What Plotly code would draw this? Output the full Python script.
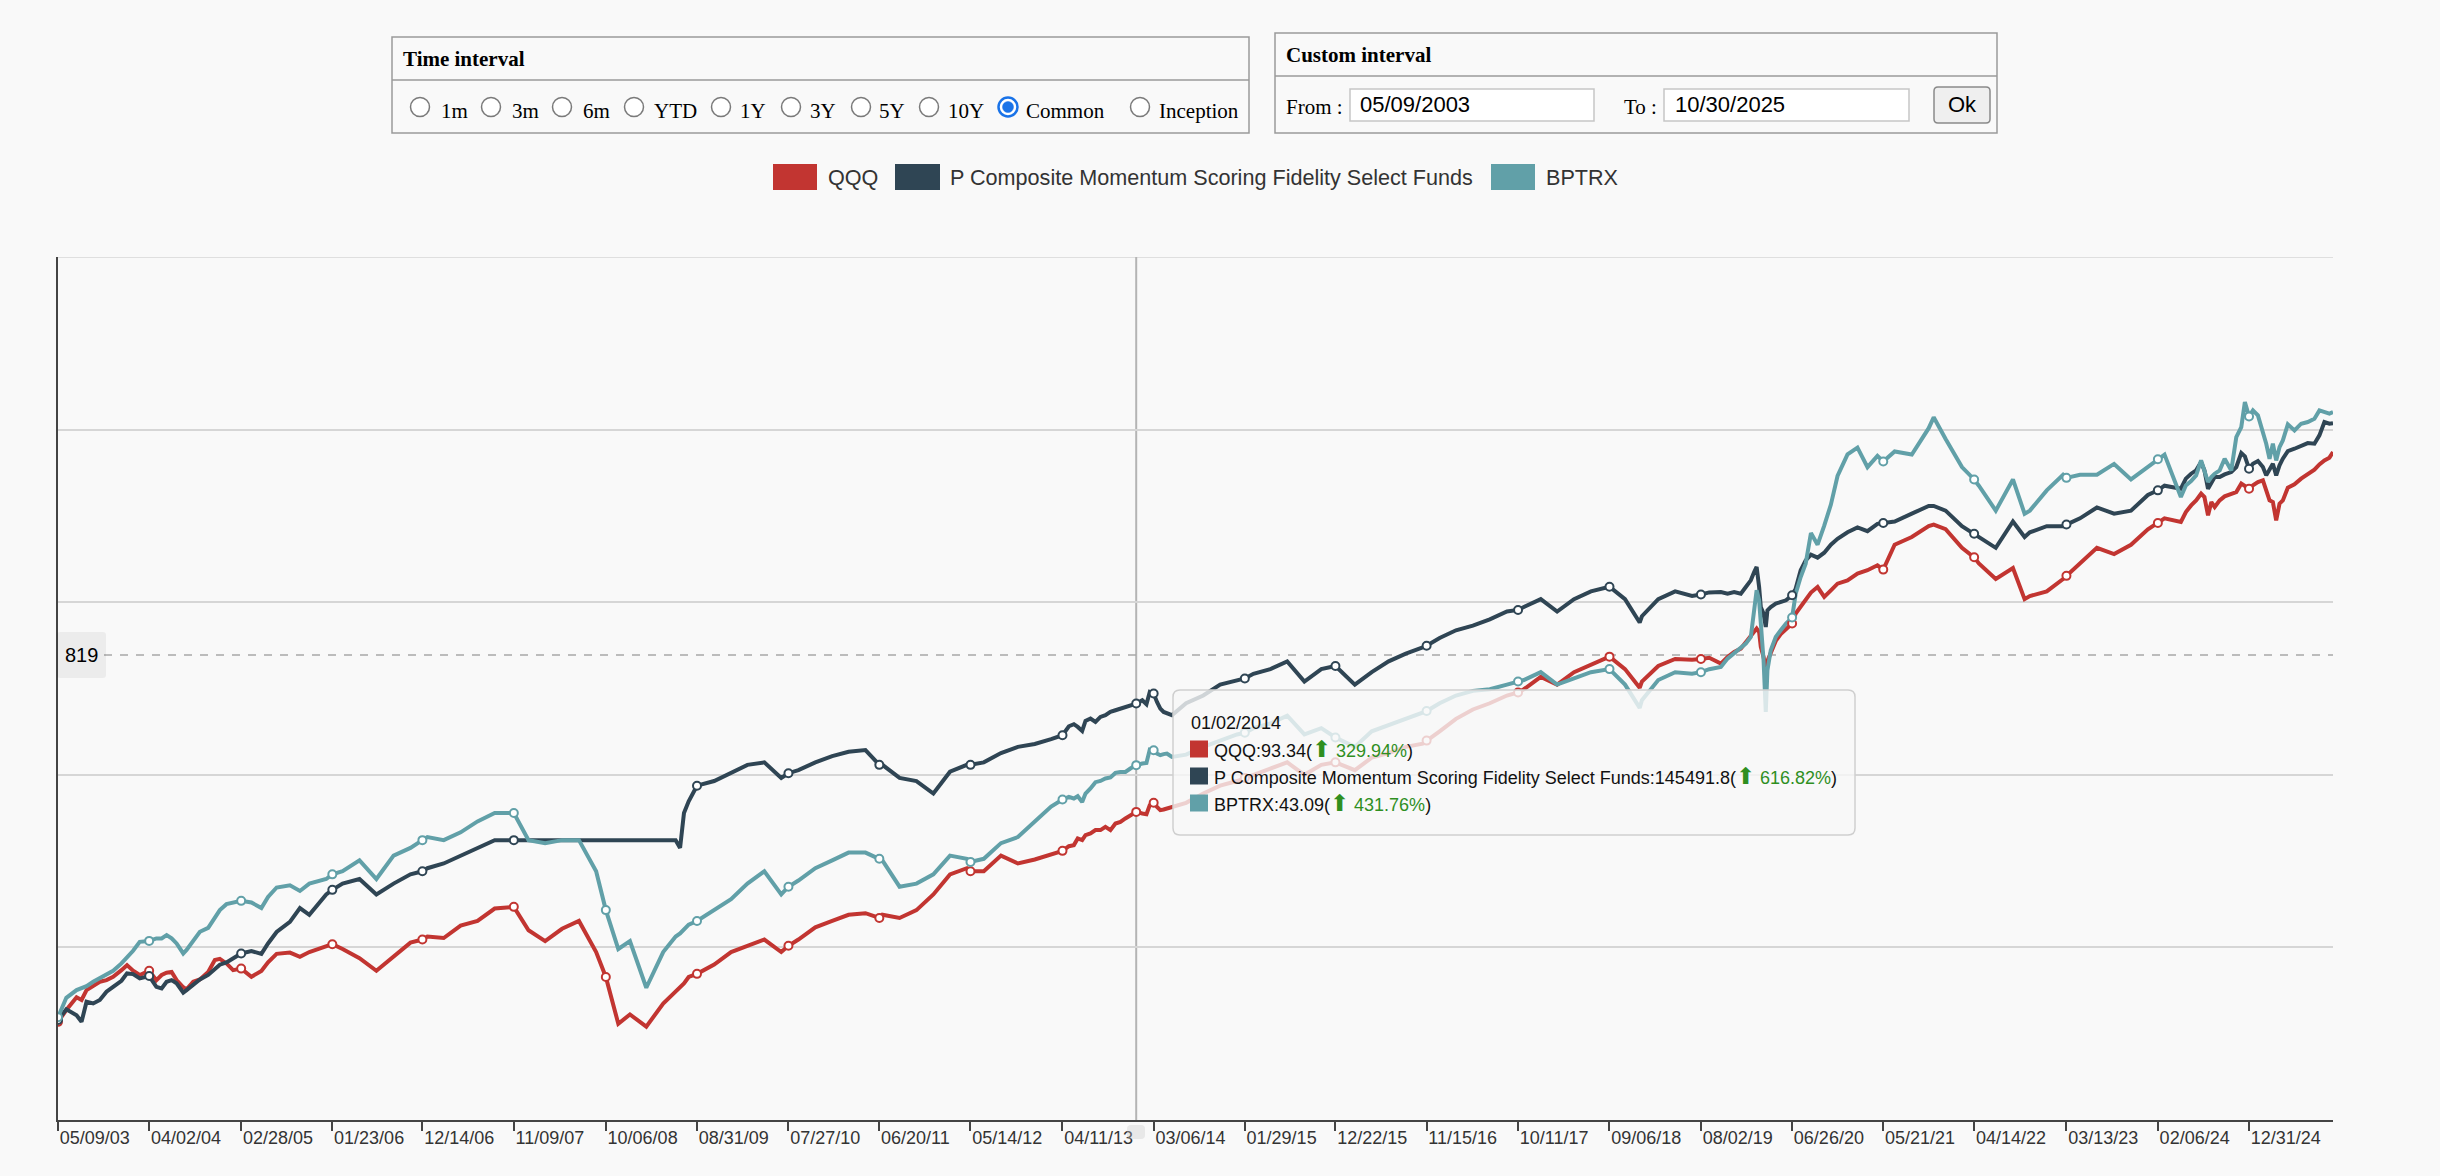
import math
import plotly.graph_objects as go

# ---------------- data (growth index) ----------------
dates = [
    "2003-05-09", "2003-06-08", "2003-07-15", "2003-08-02", "2003-08-20", "2003-09-13", "2003-10-07", "2003-10-31", "2003-11-24", "2003-12-24",
    "2004-01-13", "2004-02-04", "2004-02-28", "2004-04-02", "2004-04-28", "2004-05-17", "2004-06-04", "2004-06-22", "2004-07-10", "2004-08-03", "2004-08-15", "2004-09-08", "2004-10-02", "2004-11-01", "2004-11-25", "2004-12-13",
    "2005-01-06", "2005-01-30", "2005-02-28", "2005-04-06", "2005-05-12", "2005-06-05", "2005-07-06", "2005-08-23", "2005-09-28", "2005-11-01",
    "2006-01-01", "2006-01-23", "2006-03-01", "2006-05-01", "2006-07-01", "2006-09-01", "2006-11-01", "2006-12-14",
    "2007-01-01", "2007-03-01", "2007-05-01", "2007-07-01", "2007-09-01", "2007-11-09",
    "2008-01-01", "2008-03-01", "2008-05-01", "2008-07-01", "2008-09-01", "2008-10-06", "2008-11-01", "2008-11-20",
    "2009-01-01", "2009-03-01", "2009-05-01", "2009-06-15", "2009-07-01", "2009-07-15", "2009-08-01", "2009-08-31", "2009-11-01",
    "2010-01-01", "2010-03-01", "2010-05-01", "2010-07-01", "2010-07-27", "2010-09-01", "2010-11-01",
    "2011-01-01", "2011-03-01", "2011-05-01", "2011-06-20", "2011-07-01", "2011-09-01", "2011-11-01",
    "2012-01-01", "2012-03-01", "2012-05-01", "2012-05-14", "2012-07-01", "2012-09-01", "2012-11-01",
    "2013-01-01", "2013-03-01", "2013-04-11", "2013-05-04", "2013-05-22", "2013-06-05", "2013-06-21", "2013-07-03", "2013-07-21", "2013-08-08", "2013-08-26", "2013-09-13", "2013-10-01", "2013-10-19", "2013-11-06", "2013-11-24", "2013-12-12",
    "2014-01-02", "2014-01-24", "2014-02-08", "2014-02-20", "2014-03-06", "2014-03-18", "2014-03-30", "2014-04-11", "2014-04-23", "2014-05-11", "2014-07-01", "2014-09-01", "2014-11-01",
    "2015-01-01", "2015-01-29", "2015-03-01", "2015-05-01", "2015-07-01", "2015-09-01", "2015-11-01", "2015-12-22",
    "2016-03-01", "2016-05-01", "2016-07-01", "2016-09-01", "2016-11-01", "2016-11-15",
    "2017-01-01", "2017-03-01", "2017-05-01", "2017-07-01", "2017-09-01", "2017-10-11", "2017-11-01",
    "2018-01-01", "2018-03-01", "2018-05-01", "2018-07-01", "2018-09-06", "2018-11-01", "2018-12-24",
    "2019-01-01", "2019-03-01", "2019-05-01", "2019-07-01", "2019-08-02", "2019-09-01", "2019-10-13", "2019-11-06", "2019-11-30", "2019-12-24",
    "2020-01-11", "2020-01-29", "2020-02-10", "2020-02-19", "2020-02-28", "2020-03-05", "2020-03-15", "2020-03-23", "2020-03-29", "2020-04-10", "2020-04-28", "2020-05-16", "2020-06-04", "2020-06-26",
    "2020-07-09", "2020-07-27", "2020-08-14", "2020-09-02", "2020-09-26", "2020-10-20", "2020-11-13", "2020-12-07",
    "2021-01-12", "2021-02-17", "2021-03-25", "2021-04-30", "2021-05-21", "2021-07-01", "2021-09-01", "2021-11-01", "2021-11-19",
    "2022-01-01", "2022-03-01", "2022-04-14", "2022-05-01", "2022-07-01", "2022-09-01", "2022-10-13", "2022-11-01",
    "2023-01-01", "2023-03-01", "2023-03-13", "2023-05-01", "2023-07-01", "2023-09-01", "2023-11-01",
    "2024-01-01", "2024-02-06", "2024-03-01", "2024-04-29", "2024-05-17", "2024-06-05", "2024-06-23", "2024-07-11", "2024-07-23", "2024-08-05", "2024-08-17", "2024-08-29",
    "2024-09-16", "2024-10-04", "2024-10-28", "2024-11-15", "2024-12-03", "2024-12-16", "2024-12-31",
    "2025-01-14", "2025-02-01", "2025-02-19", "2025-03-03", "2025-03-15", "2025-03-27", "2025-04-08", "2025-04-20", "2025-05-02", "2025-05-20", "2025-06-13", "2025-07-07", "2025-07-31", "2025-08-24", "2025-09-11", "2025-09-29", "2025-10-17", "2025-10-30",
]

qqq = [
    92.7, 97.2, 102.3, 101.2, 105.3, 107.2, 108.9, 109.6, 111.1, 114.1,
    116.4, 113.8, 111.9, 113.8, 109.6, 111.9, 112.9, 113.3, 109.6, 106.5, 105.6, 108.9, 109.9, 113.3, 118.8, 119.4,
    117.2, 114.1, 114.8, 111.1, 113.7, 117.7, 121.8, 122.4, 120.4, 122.7,
    125.8, 126.6, 124.2, 119.7, 113.8, 120.4, 127.4, 129.0,
    130.6, 129.8, 136.4, 139.0, 146.1, 147.1,
    133.9, 128.2, 134.7, 139.0, 122.7, 111.0, 99.8, 92.0,
    95.5, 90.9, 99.8, 105.0, 106.3, 108.2, 111.0, 112.4, 116.7,
    122.7, 125.8, 129.0, 122.7, 125.8, 129.0, 135.5,
    139.0, 142.5, 143.4, 140.7, 142.5, 140.7, 145.2,
    154.6, 167.6, 171.8, 169.7, 169.7, 180.7, 175.1,
    177.9, 181.8, 184.2, 187.7, 188.5, 193.6, 192.3, 196.2, 197.6, 200.2, 200.2, 202.8, 200.2, 205.6, 206.9, 209.8, 212.6,
    215.4, 214.0, 213.4, 221.3, 223.4, 219.8, 216.9, 217.5, 218.4, 219.8, 223.4, 231.9, 239.3,
    243.8, 246.9, 250.0, 256.3, 262.8, 250.0, 260.2, 262.8,
    254.7, 267.8, 272.8, 279.7, 283.3, 286.8,
    297.7, 313.0, 325.0, 333.2, 343.7, 348.0, 352.5,
    370.4, 359.1, 377.5, 389.4, 401.8, 382.2, 354.6,
    363.6, 387.0, 398.0, 396.8, 398.0, 400.0, 390.8, 401.3, 409.5, 415.1,
    425.7, 437.3, 446.7, 449.8, 443.7, 417.7, 401.3, 383.0, 395.0, 409.5, 428.0, 439.8, 448.0, 458.9,
    477.7, 490.4, 503.8, 519.7, 531.4, 510.6, 524.4, 538.7,
    545.9, 560.9, 568.4, 579.9, 569.9, 629.7, 649.7, 678.6, 682.8,
    670.3, 622.0, 598.8, 584.3, 548.8, 573.4, 506.1, 512.5,
    522.2, 548.8, 555.8, 584.3, 622.0, 606.6, 629.7,
    670.3, 687.2, 700.2, 690.0, 718.2, 737.6, 752.6, 773.1, 762.7, 708.6, 747.5, 732.7,
    752.6, 764.8, 771.0, 778.2, 804.8, 796.0, 788.6,
    799.3, 810.2, 815.6, 783.4, 752.6, 747.5, 694.5, 742.6, 752.6, 792.0, 802.6, 821.3, 835.4, 851.3, 869.5, 883.7, 893.3, 913.6,
]

pcm = [
    93.4, 97.5, 95.2, 92.7, 100.5, 99.8, 101.2, 104.6, 106.7, 109.3,
    112.6, 112.3, 110.4, 111.4, 106.7, 106.0, 108.9, 109.6, 108.2, 104.2, 105.3, 107.4, 109.9, 111.9, 114.8, 116.6,
    117.7, 119.6, 122.0, 123.2, 121.8, 127.0, 133.0, 138.5, 146.4, 142.5,
    154.6, 157.5, 161.5, 164.5, 154.6, 161.5, 167.6, 169.7,
    171.8, 175.1, 180.7, 186.4, 192.3, 192.3,
    192.3, None, None, None, None, None, None, None,
    None, None, None, 192.3, 186.4, 214.5, 224.8, 239.3, 243.8,
    251.6, 260.2, 262.8, 246.9, 251.6, 254.7, 262.8,
    269.4, 274.3, 276.1, 260.2, 260.2, 246.9, 243.8,
    231.9, 253.1, 260.2, 260.2, 262.8, 272.8, 279.7,
    283.0, 288.6, 293.1, 303.8, 306.3, 303.0, 298.2, 310.4, 313.4, 309.1, 315.4, 317.6, 321.8, 324.0, 326.2, 328.4, 330.6,
    332.8, 337.3, 331.9, 348.6, 346.5, 335.0, 326.2, 321.8, 319.7, 317.6, 333.2, 343.7, 359.1,
    365.8, 368.1, 375.1, 382.2, 394.3, 363.6, 382.2, 387.0,
    359.1, 377.5, 394.3, 406.8, 417.1, 419.7,
    433.0, 446.7, 455.1, 466.8, 481.6, 484.7, 490.6,
    506.1, 481.6, 506.1, 522.2, 532.1, 506.1, 460.9,
    472.6, 506.1, 522.2, 512.5, 515.8, 520.0, 520.9, 517.5, 520.9, 517.5,
    531.4, 545.9, 564.4, 576.0, 531.4, 490.4, 477.7, 452.7, 484.0, 490.4, 497.2, 500.4, 503.8, 514.1,
    528.0, 568.4, 591.6, 605.0, 598.0, 610.0, 630.0, 645.0,
    662.0, 675.0, 665.0, 685.0, 687.2, 691.5, 713.4, 736.1, 736.1,
    722.3, 678.6, 658.0, 649.7, 622.0, 691.5, 649.7, 662.0,
    678.6, 678.6, 683.0, 700.2, 731.5, 713.4, 722.3,
    769.0, 783.5, 798.3, 788.6, 821.3, 837.7, 848.9, 877.8, 848.9, 788.6, 810.2, 826.6,
    826.6, 835.4, 843.3, 860.4, 910.0, 898.0, 854.7,
    872.0, 881.3, 860.4, 832.1, 848.9, 872.0, 832.1, 866.2, 889.7, 917.5, 926.1, 938.6, 947.4, 944.8, 977.0, 1030.8, 1024.0, 1026.4,
]

bptrx = [
    94.4, 102.1, 105.3, 106.3, 107.0, 108.9, 110.4, 111.9, 113.8, 117.2,
    120.0, 123.3, 127.8, 128.3, 129.6, 129.6, 131.3, 129.6, 127.0, 122.0, 123.7, 128.7, 133.1, 135.2, 141.3, 145.2,
    148.7, 149.5, 150.7, 149.7, 146.4, 153.1, 159.0, 160.4, 156.8, 161.5,
    164.5, 167.6, 169.7, 177.3, 164.5, 180.7, 186.4, 192.3,
    194.7, 192.3, 198.4, 207.3, 214.5, 214.5,
    192.3, 189.9, 192.3, 192.3, 169.7, 145.2, 132.2, 124.2,
    128.2, 106.3, 122.7, 130.6, 132.2, 134.7, 137.0, 139.0, 145.2,
    151.7, 161.5, 169.7, 154.6, 159.5, 163.5, 171.8,
    177.3, 182.9, 182.9, 178.4, 177.3, 159.5, 161.5,
    167.6, 180.7, 178.4, 176.2, 178.4, 190.0, 194.7,
    207.3, 220.0, 226.4, 228.8, 227.3, 229.4, 224.2, 231.9, 236.6, 242.7, 243.9, 246.3, 247.3, 251.9, 252.9, 252.9, 256.4,
    259.9, 261.6, 262.2, 276.7, 275.9, 272.3, 270.5, 271.6, 272.3, 268.6, 271.1, 279.7, 286.8,
    294.0, 295.9, 301.5, 307.2, 316.9, 294.0, 301.5, 290.4,
    279.7, 297.7, 305.3, 313.0, 320.9, 322.9,
    333.2, 343.7, 350.2, 352.5, 359.1, 363.6, 365.8,
    377.5, 359.1, 368.1, 377.5, 382.2, 359.1, 327.0,
    337.3, 365.8, 377.5, 375.1, 377.5, 382.0, 385.5, 398.7, 406.9, 415.1,
    423.4, 434.9, 484.0, 524.4, 503.8, 452.7, 396.0, 321.8, 380.4, 412.3, 434.9, 446.7, 458.9, 470.1,
    517.5, 553.2, 583.8, 660.0, 630.0, 680.0, 740.0, 830.0,
    905.0, 930.0, 860.0, 900.0, 880.0, 915.8, 904.6, 1005.7, 1050.6,
    962.8, 860.4, 818.6, 798.3, 722.3, 818.6, 713.4, 722.3,
    783.5, 834.0, 823.8, 834.0, 834.0, 871.3, 818.6,
    860.4, 887.7, 904.6, 762.7, 799.3, 813.3, 832.1, 883.7, 848.9, 810.2, 826.6, 837.7,
    848.9, 889.7, 848.9, 970.4, 1010.0, 1116.7, 1054.5,
    1080.0, 1058.7, 990.2, 944.8, 889.7, 944.8, 883.7, 932.2, 957.6, 1021.2, 996.8, 1024.0, 1030.8, 1044.8, 1080.0, 1072.7, 1066.0, 1072.7,
]

assert len(dates) == len(qqq) == len(pcm) == len(bptrx), (len(dates), len(qqq), len(pcm), len(bptrx))

series_names = ["QQQ", "P Composite Momentum Scoring Fidelity Select Funds", "BPTRX"]
series_colors = ["#c23531", "#2f4554", "#61a0a8"]

tick_dates = [
    "2003-05-09", "2004-04-02", "2005-02-28", "2006-01-23", "2006-12-14", "2007-11-09", "2008-10-06",
    "2009-08-31", "2010-07-27", "2011-06-20", "2012-05-14", "2013-04-11", "2014-03-06", "2015-01-29",
    "2015-12-22", "2016-11-15", "2017-10-11", "2018-09-06", "2019-08-02", "2020-06-26", "2021-05-21",
    "2022-04-14", "2023-03-13", "2024-02-06", "2024-12-31",
]
tick_text = [d[5:7] + "/" + d[8:10] + "/" + d[2:4] for d in tick_dates]
hover_date = "2014-01-02"
grid_vals = [125, 250, 500, 1000, 2000]
y_range_vals = [62.5, 2000]
x_range = ["2003-05-09", "2025-10-30"]

tooltip_title = "01/02/2014"
tooltip_rows = [
    ("QQQ", "93.34", "329.94%"),
    ("P Composite Momentum Scoring Fidelity Select Funds", "145491.8", "616.82%"),
    ("BPTRX", "43.09", "431.76%"),
]
pointer_label = "819"
radio_labels = ["1m", "3m", "6m", "YTD", "1Y", "3Y", "5Y", "10Y", "Common", "Inception"]
selected_radio = "Common"
from_date = "05/09/2003"
to_date = "10/30/2025"

# ---------------- geometry helpers (pixel -> paper) ----------------
FW, FH = 2440, 1176
L, R, T, B = 58, 2333, 257, 1120
PW, PH = R - L, B - T


def px(x):
    return (x - L) / PW


def py(y):
    return (B - y) / PH


def rrect_path(x0, y0, x1, y1, r):
    X, Y = px, py
    return (f"M {X(x0 + r)},{Y(y0)} L {X(x1 - r)},{Y(y0)} Q {X(x1)},{Y(y0)} {X(x1)},{Y(y0 + r)} "
            f"L {X(x1)},{Y(y1 - r)} Q {X(x1)},{Y(y1)} {X(x1 - r)},{Y(y1)} L {X(x0 + r)},{Y(y1)} "
            f"Q {X(x0)},{Y(y1)} {X(x0)},{Y(y1 - r)} L {X(x0)},{Y(y0 + r)} Q {X(x0)},{Y(y0)} {X(x0 + r)},{Y(y0)} Z")


shapes = []
annots = []

SANS = "Liberation Sans, Arial, Helvetica, sans-serif"
SERIF = "Liberation Serif, Times New Roman, serif"


def rect(x0, y0, x1, y1, fill="rgba(0,0,0,0)", line="rgba(0,0,0,0)", lw=0, layer="above"):
    shapes.append(dict(type="rect", xref="paper", yref="paper", x0=px(x0), x1=px(x1), y0=py(y1), y1=py(y0),
                       fillcolor=fill, line=dict(color=line, width=lw), layer=layer))


def hline(x0, x1, y, color, lw, dash="solid", layer="above"):
    shapes.append(dict(type="line", xref="paper", yref="paper", x0=px(x0), x1=px(x1), y0=py(y), y1=py(y),
                       line=dict(color=color, width=lw, dash=dash), layer=layer))


def circle(cx, cy, r, fill, line, lw):
    shapes.append(dict(type="circle", xref="paper", yref="paper", x0=px(cx - r), x1=px(cx + r),
                       y0=py(cy + r), y1=py(cy - r), fillcolor=fill, line=dict(color=line, width=lw),
                       layer="above"))


def text(x, y, s, size, color="#000", family=SANS, anchor="left"):
    annots.append(dict(xref="paper", yref="paper", x=px(x), y=py(y), text=s, showarrow=False,
                       xanchor=anchor, yanchor="middle", font=dict(size=size, color=color, family=family),
                       borderpad=0))


# ---------------- figure ----------------
fig = go.Figure()
for name, vals, col in zip(series_names, [qqq, pcm, bptrx], series_colors):
    fig.add_trace(go.Scatter(x=dates, y=vals, mode="lines", name=name, connectgaps=True,
                             line=dict(color=col, width=4), showlegend=False, hoverinfo="skip"))
mark_dates = sorted(set(tick_dates + [hover_date]))
for name, vals, col in zip(series_names, [qqq, pcm, bptrx], series_colors):
    lookup = dict(zip(dates, vals))
    md = [d for d in mark_dates if lookup.get(d) is not None]
    fig.add_trace(go.Scatter(x=md, y=[lookup[d] for d in md], mode="markers", showlegend=False,
                             hoverinfo="skip",
                             marker=dict(size=8, color="white", line=dict(color=col, width=2))))

# top grid line (upper bound of the value axis)
shapes.append(dict(type="line", xref="paper", yref="y", x0=0, x1=1, y0=grid_vals[-1], y1=grid_vals[-1],
                   line=dict(color="#d6d6d6", width=1.5), layer="below"))
# crosshair vertical line + horizontal dashed pointer
shapes.append(dict(type="line", xref="x", yref="paper", x0=hover_date, x1=hover_date, y0=0, y1=1,
                   line=dict(color="#b4b4b4", width=2), layer="between"))
hline(104, R, 655, "#a8a8a8", 1.6, dash="8px,8px", layer="between")
# pointer label box
shapes.append(dict(type="path", xref="paper", yref="paper", path=rrect_path(57, 632, 106, 678, 3),
                   fillcolor="rgba(0,0,0,0.05)", line=dict(width=0), layer="above"))
shapes.append(dict(type="path", xref="paper", yref="paper", path=rrect_path(58, 634, 104, 676, 3),
                   fillcolor="#ececec", line=dict(width=0), layer="above"))
text(81, 655, pointer_label, 20, "#000", SANS, "center")
# x-axis pointer tag (faint)
shapes.append(dict(type="path", xref="paper", yref="paper", path=rrect_path(1127, 1125, 1145, 1139, 4),
                   fillcolor="rgba(200,200,200,0.35)", line=dict(width=0), layer="above"))

# tooltip
shapes.append(dict(type="path", xref="paper", yref="paper", path=rrect_path(1173, 690, 1855, 835, 7),
                   fillcolor="rgba(248,248,248,0.80)", line=dict(color="#cfcfcf", width=1.5), layer="above"))
text(1190, 723, tooltip_title, 18, "#111")
row_y = [749, 776, 803]
for (nm, val, pct), col, yy in zip(tooltip_rows, series_colors, row_y):
    rect(1190, yy - 8.5, 1208, yy + 8.5, fill=col)
    text(1213, yy,
         f"{nm}:{val}(<span style='color:#2f8f1f;font-size:23px'>⬆</span>"
         f"<span style='color:#2f8f1f'> {pct}</span>)", 18, "#111")

# legend
leg = [(773, 817, 827, series_names[0]), (895, 940, 949, series_names[1]), (1491, 1535, 1545, series_names[2])]
for (sx0, sx1, tx, nm), col in zip(leg, series_colors):
    rect(sx0, 164, sx1, 190, fill=col)
    text(tx, 177, nm, 21.6, "#333")

# ---- control panel: Time interval ----
rect(392, 37, 1249, 133, line="#9a9a9a", lw=1.5)
hline(392, 1249, 80, "#9a9a9a", 1.5)
text(402, 59, "<b>Time interval</b>", 21, "#000", SERIF)
radio_cx = [420, 491, 562, 634, 721, 791, 861, 929, 1008, 1140]
label_x = [440, 511, 582, 653, 739, 809, 878, 947, 1025, 1158]
for lab, cx, lx in zip(radio_labels, radio_cx, label_x):
    if lab == selected_radio:
        circle(cx, 107, 9.5, "white", "#1a73e8", 2.5)
        circle(cx, 107, 5.5, "#1a73e8", "#1a73e8", 0.5)
    else:
        circle(cx, 107, 9.5, "white", "#7a7a7a", 1.5)
    text(lx, 111, lab, 21, "#000", SERIF)

# ---- control panel: Custom interval ----
rect(1275, 33, 1997, 133, line="#9a9a9a", lw=1.5)
hline(1275, 1997, 76, "#9a9a9a", 1.5)
text(1285, 55, "<b>Custom interval</b>", 21, "#000", SERIF)
text(1285, 107, "From :", 21, "#000", SERIF)
rect(1350, 89, 1594, 121, fill="white", line="#c6c6c6", lw=1.5)
text(1359, 105, from_date, 22, "#000", SANS)
text(1623, 107, "To :", 21, "#000", SERIF)
rect(1664, 89, 1909, 121, fill="white", line="#c6c6c6", lw=1.5)
text(1674, 105, to_date, 22, "#000", SANS)
shapes.append(dict(type="path", xref="paper", yref="paper", path=rrect_path(1934, 87, 1990, 123, 4),
                   fillcolor="#efefef", line=dict(color="#8a8a8a", width=1.5), layer="above"))
text(1962, 105, "Ok", 22, "#000", SANS, "center")

fig.update_layout(
    width=FW, height=FH,
    margin=dict(l=L, r=FW - R, t=T, b=FH - B, pad=0),
    paper_bgcolor="#f9f9f9", plot_bgcolor="#f9f9f9",
    shapes=shapes, annotations=annots, hovermode=False,
    xaxis=dict(type="date", range=x_range, tickmode="array", tickvals=tick_dates, ticktext=tick_text,
               ticks="outside", ticklen=9, tickwidth=1.5, tickcolor="#444", showgrid=False,
               showline=True, linecolor="#444", linewidth=2, zeroline=False,
               tickfont=dict(family=SANS, size=18, color="#333"), ticklabelposition="outside right"),
    yaxis=dict(type="log", range=[math.log10(y_range_vals[0]), math.log10(y_range_vals[1])],
               tickmode="array", tickvals=grid_vals, showticklabels=False, ticks="",
               showgrid=True, gridcolor="#d6d6d6", gridwidth=1.5, showline=True, linecolor="#444",
               linewidth=2, zeroline=False),
)
fig.write_html("out.html")
